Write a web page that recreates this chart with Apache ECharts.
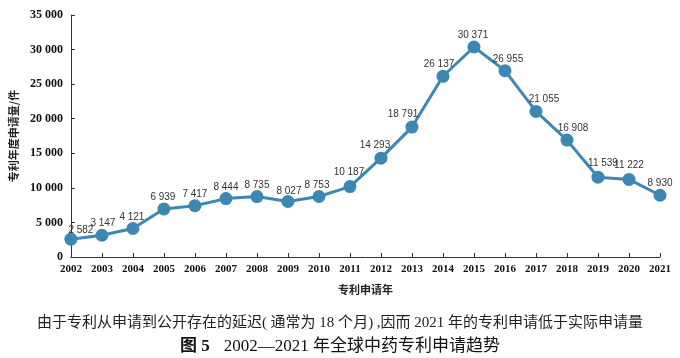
<!DOCTYPE html>
<html>
<head>
<meta charset="utf-8">
<script src="https://cdn.jsdelivr.net/npm/echarts@6/dist/echarts.min.js"></script>
<style>html,body{margin:0;padding:0;background:#fff}#c{width:680px;height:358px}</style>
</head>
<body>
<div id="c"></div>
<script>
var years = ['2002','2003','2004','2005','2006','2007','2008','2009','2010','2011','2012','2013','2014','2015','2016','2017','2018','2019','2020','2021'];
var applications = [2582,3147,4121,6939,7417,8444,8735,8027,8753,10187,14293,18791,26137,30371,26955,21055,16908,11539,11222,8930];
var yTicks = {min:0, max:35000, interval:5000};
var xName = '专利申请年';
var yName = '专利年度申请量/件';
var note = '由于专利从申请到公开存在的延迟( 通常为 18 个月) ,因而 2021 年的专利申请低于实际申请量';
var captionHead = '图 5';
var captionBody = '2002—2021 年全球中药专利申请趋势';
// label nudges (style only)
var labelNudge = [[10,3],[1,0],[-1,0],[-1,0],[0,0],[0,0],[0,0],[1,1],[-2,0],[-1,-3],[-6,-1],[-9,-1],[-4,-1],[-1,0],[3,0],[8,-1],[6,0],[5,-2],[0,-3],[0,-1]];

function fmt(v){ return String(v).replace(/\B(?=(\d{3})+(?!\d))/g,' '); }

var serif = '"Liberation Serif","Noto Sans CJK SC",serif';
var sans = '"Liberation Sans",Arial,sans-serif';
var lineColor = '#3d88b3';

var chart = echarts.init(document.getElementById('c'));
chart.setOption({
  animation:false,
  grid:{left:61,right:20,top:15,bottom:101,containLabel:false},
  title:[
    {text:note,left:'center',top:311,textStyle:{fontFamily:serif,fontSize:15,fontWeight:'normal',color:'#222'}},
    {text:'{h|'+captionHead+'}{s|}{b|'+captionBody+'}',left:'center',top:333,
      textStyle:{rich:{
        h:{fontFamily:serif,fontSize:17,fontWeight:'bold',color:'#111'},
        s:{width:14},
        b:{fontFamily:serif,fontSize:17,fontWeight:'normal',color:'#111'}
      }}}
  ],
  xAxis:{
    type:'category',data:years,boundaryGap:false,
    name:xName,nameLocation:'middle',nameGap:27,
    nameTextStyle:{fontFamily:'"Noto Sans CJK SC"',fontSize:11,fontWeight:'bold',color:'#222'},
    axisLine:{lineStyle:{color:'#333',width:1}},
    axisTick:{inside:true,length:4,interval:0,alignWithLabel:true,lineStyle:{color:'#333'}},
    axisLabel:{interval:0,fontFamily:serif,fontWeight:'bold',fontSize:11,color:'#111',margin:7}
  },
  yAxis:{
    type:'value',min:yTicks.min,max:yTicks.max,interval:yTicks.interval,
    name:yName,nameLocation:'middle',nameGap:47,nameRotate:90,
    nameTextStyle:{fontFamily:'"Noto Sans CJK SC"',fontSize:11,fontWeight:'bold',color:'#222'},
    axisLine:{show:true,lineStyle:{color:'#333',width:1}},
    axisTick:{show:true,inside:true,length:4,lineStyle:{color:'#333'}},
    splitLine:{show:false},
    axisLabel:{fontFamily:serif,fontWeight:'bold',fontSize:12,color:'#111',margin:8,formatter:function(v){return fmt(v);}}
  },
  series:[{
    type:'line',
    data:applications.map(function(v,i){
      return {value:v,label:{offset:labelNudge[i]}};
    }),
    symbol:'circle',symbolSize:13,
    lineStyle:{color:lineColor,width:3},
    itemStyle:{color:lineColor},
    label:{show:true,position:'top',distance:0,fontFamily:sans,fontSize:10,color:'#333',
      formatter:function(p){return fmt(p.value);}}
  }]
});
</script>
</body>
</html>
